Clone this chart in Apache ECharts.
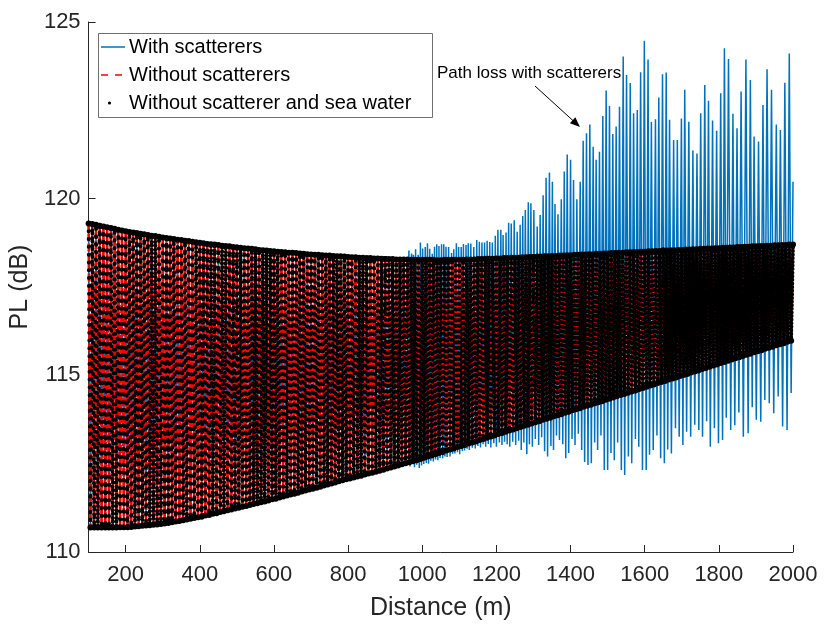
<!DOCTYPE html>
<html>
<head>
<meta charset="utf-8">
<script src="https://cdn.jsdelivr.net/npm/echarts@6/dist/echarts.min.js"></script>
<style>html,body{margin:0;padding:0;background:#fff}#c{width:831px;height:628px}</style>
</head>
<body>
<div id="c"></div>
<script>
// ---- data ----
const xTicks = [200,400,600,800,1000,1200,1400,1600,1800,2000];
const bandStart = 100, bandStep = 10; // upper values at 100,110,...,2000 ; lower values at 105,115,...,1995
const plUpper = [
119.30,119.28,119.26,119.23,119.21,119.19,119.17,119.15,119.12,119.10,
119.08,119.06,119.04,119.03,119.01,118.99,118.97,118.95,118.94,118.92,
118.90,118.89,118.87,118.86,118.84,118.83,118.81,118.80,118.78,118.77,
118.75,118.74,118.72,118.71,118.70,118.69,118.67,118.66,118.65,118.63,
118.62,118.61,118.60,118.59,118.58,118.57,118.55,118.54,118.53,118.52,
118.51,118.50,118.49,118.48,118.47,118.47,118.46,118.45,118.44,118.43,
118.42,118.41,118.41,118.40,118.39,118.39,118.38,118.37,118.37,118.36,
118.35,118.34,118.34,118.33,118.33,118.32,118.32,118.31,118.31,118.30,
118.29,118.29,118.29,118.28,118.28,118.28,118.28,118.27,118.27,118.27,
118.27,118.27,118.27,118.27,118.26,118.26,118.27,118.27,118.27,118.27,
118.27,118.27,118.28,118.28,118.28,118.29,118.29,118.30,118.30,118.30,
118.31,118.31,118.32,118.32,118.33,118.33,118.33,118.34,118.34,118.35,
118.35,118.36,118.36,118.37,118.37,118.38,118.38,118.39,118.39,118.40,
118.40,118.41,118.41,118.42,118.42,118.43,118.43,118.44,118.44,118.45,
118.45,118.46,118.46,118.47,118.47,118.48,118.48,118.49,118.49,118.50,
118.50,118.51,118.51,118.52,118.52,118.53,118.53,118.54,118.54,118.55,
118.55,118.56,118.56,118.57,118.57,118.58,118.58,118.59,118.59,118.60,
118.60,118.61,118.61,118.62,118.62,118.63,118.63,118.64,118.64,118.65,
118.65,118.66,118.66,118.67,118.67,118.68,118.68,118.69,118.69,118.70,
118.70];
const plLower = [
110.69,110.69,110.69,110.69,110.69,110.69,110.69,110.69,110.70,110.70,
110.70,110.71,110.72,110.73,110.74,110.75,110.76,110.77,110.78,110.79,
110.81,110.82,110.84,110.86,110.88,110.90,110.92,110.94,110.96,110.98,
111.00,111.03,111.05,111.08,111.10,111.13,111.15,111.18,111.20,111.23,
111.25,111.28,111.30,111.33,111.36,111.38,111.41,111.43,111.46,111.49,
111.51,111.54,111.57,111.60,111.63,111.65,111.68,111.71,111.74,111.77,
111.79,111.82,111.85,111.88,111.91,111.94,111.97,112.00,112.03,112.06,
112.08,112.11,112.14,112.16,112.19,112.22,112.24,112.27,112.30,112.33,
112.36,112.39,112.42,112.45,112.48,112.51,112.54,112.57,112.60,112.63,
112.67,112.70,112.73,112.77,112.80,112.83,112.87,112.90,112.93,112.97,
113.00,113.03,113.07,113.10,113.13,113.17,113.20,113.23,113.27,113.30,
113.34,113.37,113.40,113.44,113.47,113.50,113.54,113.57,113.60,113.64,
113.67,113.70,113.74,113.77,113.80,113.84,113.87,113.90,113.94,113.97,
114.01,114.04,114.07,114.11,114.14,114.17,114.21,114.24,114.27,114.31,
114.34,114.37,114.41,114.44,114.47,114.51,114.54,114.57,114.61,114.64,
114.68,114.71,114.74,114.78,114.81,114.84,114.88,114.91,114.94,114.98,
115.01,115.04,115.08,115.11,115.14,115.18,115.21,115.24,115.28,115.31,
115.35,115.38,115.41,115.45,115.48,115.51,115.55,115.58,115.61,115.65,
115.68,115.71,115.75,115.78,115.81,115.85,115.88,115.91,115.95,115.98];

// With scatterers: individual peaks (above the band) and troughs (below the band), 960 m to 2000 m
const peakDist = [964,971,976,982,989,995,1001,1008,1014,1020,1027,1033,1039,1045,1052,1058,1064,1071,1079,1085,
1092,1098,1105,1111,1118,1124,1131,1139,1147,1154,1161,1168,1175,1182,1189,1197,1204,1212,1218,1226,
1233,1240,1248,1256,1264,1271,1278,1286,1293,1301,1310,1318,1326,1334,1343,1351,1358,1366,1375,1383,
1391,1400,1408,1417,1426,1434,1443,1452,1461,1469,1478,1487,1496,1505,1514,1523,1532,1542,1551,1561,
1570,1580,1589,1599,1609,1618,1629,1638,1648,1658,1667,1678,1688,1699,1708,1719,1730,1741,1751,1762,
1772,1783,1794,1805,1815,1826,1838,1849,1860,1873,1885,1895,1907,1919,1930,1942,1955,1966,1978,1990,2000];
const peakPL = [118.53,118.45,118.41,118.57,118.41,118.76,118.59,118.63,118.74,118.58,118.44,118.64,118.71,118.66,118.71,118.71,118.64,118.63,118.46,118.57,
118.74,118.63,118.63,118.72,118.69,118.74,118.73,118.63,118.83,118.78,118.76,118.76,118.81,118.77,118.76,118.95,119.12,119.12,118.97,119.04,
119.32,119.30,119.39,119.06,119.26,119.51,119.68,119.90,119.87,119.68,119.21,119.54,120.10,120.59,120.74,120.48,119.85,119.56,119.98,120.77,
121.25,121.10,120.53,119.98,120.48,121.64,121.85,122.10,121.47,121.10,121.33,122.34,123.06,122.62,121.83,122.04,122.60,124.02,123.50,123.27,
122.42,122.51,123.58,124.47,123.94,122.17,122.25,122.86,123.52,123.57,122.23,121.66,121.66,122.27,123.08,122.18,121.36,121.28,122.42,123.22,
122.77,122.21,121.92,122.98,124.26,123.95,122.40,121.99,123.03,123.94,123.36,121.76,121.62,122.65,123.66,123.08,122.10,121.94,123.28,124.11,120.48];
const troughDist = [967,973,979,985,992,998,1004,1011,1017,1023,1030,1036,1042,1048,1055,1061,1067,1075,1082,1088,
1095,1101,1108,1114,1121,1127,1135,1143,1150,1157,1164,1171,1178,1185,1193,1200,1208,1215,1222,1229,
1236,1244,1252,1260,1267,1274,1282,1289,1297,1305,1314,1322,1330,1338,1347,1354,1362,1370,1379,1387,
1395,1404,1412,1421,1430,1438,1447,1456,1465,1473,1482,1491,1500,1509,1518,1527,1537,1546,1556,1565,
1575,1584,1594,1604,1613,1623,1633,1643,1653,1662,1672,1683,1693,1703,1713,1724,1735,1746,1756,1767,
1777,1788,1799,1810,1820,1832,1843,1854,1866,1879,1890,1901,1913,1924,1936,1948,1960,1972,1984,1995];
const troughPL = [112.42,112.50,112.40,112.47,112.38,112.45,112.49,112.52,112.50,112.58,112.56,112.62,112.60,112.66,112.65,112.70,112.69,112.70,112.78,112.79,
112.82,112.77,112.86,112.87,112.92,112.89,112.95,112.93,113.00,112.96,113.05,112.98,113.06,112.96,113.08,112.98,113.10,113.03,113.12,113.05,
112.98,113.12,113.03,113.15,112.89,113.10,112.77,113.05,112.98,113.20,113.03,113.25,112.85,112.70,113.00,112.89,113.30,113.17,113.05,112.65,
112.80,113.20,113.03,113.35,112.89,112.55,112.46,112.51,113.10,112.89,113.30,112.32,112.32,112.80,112.60,113.10,112.32,112.18,112.70,112.51,
113.20,112.98,112.32,112.32,112.75,112.89,113.30,112.65,112.51,112.90,112.79,113.50,113.26,113.03,113.40,113.26,113.60,113.45,113.26,113.70,
112.98,113.50,113.08,113.17,113.80,113.45,113.59,113.95,113.26,113.36,114.10,113.74,113.69,114.30,114.21,113.93,114.40,113.55,113.45,114.50];

// ---- build the vertex tables ----
const bandData = [];
for (let i = 0; i < plUpper.length; i++) {
  bandData.push([bandStart + bandStep * i, plUpper[i]]);
  if (i < plLower.length) bandData.push([bandStart + bandStep * i + bandStep / 2, plLower[i]]);
}
const blueData = bandData.filter(p => p[0] < 960);
for (let i = 0; i < peakDist.length; i++) {
  blueData.push([peakDist[i], peakPL[i]]);
  if (i < troughDist.length) blueData.push([troughDist[i], troughPL[i]]);
}

const FONT = 'Liberation Sans';
const TXT = '#262626';
const BLACK_NAME = 'Without scatterer and sea water';
// the dotted black trace is drawn in pieces so the dot density can follow the picture
const blackPieces = [[100, 500, 7.8], [500, 900, 6.6], [900, 1300, 5.5], [1300, 1650, 4.6], [1650, 2000, 3.6]];
const blackSeries = blackPieces.map(([a, b, gap]) => ({
  name: BLACK_NAME, type: 'line', data: bandData.filter(p => p[0] >= a && p[0] <= b), z: 3,
  symbol: 'circle', symbolSize: 6, showSymbol: true, showAllSymbol: true,
  itemStyle: {color: '#000'},
  lineStyle: {color: '#000', width: 4, type: [0.01, gap], cap: 'round'}
}));

const chart = echarts.init(document.getElementById('c'), null, {renderer: 'canvas'});
chart.setOption({
  animation: false,
  backgroundColor: '#fff',
  grid: {left: 88, right: 38, top: 22, bottom: 76, containLabel: false},
  xAxis: {
    type: 'value', min: 100, max: 2000,
    name: 'Distance (m)', nameLocation: 'middle', nameGap: 44,
    nameTextStyle: {fontFamily: FONT, fontSize: 25, color: TXT},
    axisLine: {show: true, lineStyle: {color: TXT, width: 1}},
    axisTick: {show: true, inside: true, length: 7, customValues: xTicks, lineStyle: {color: TXT}},
    axisLabel: {customValues: xTicks, fontFamily: FONT, fontSize: 22, color: TXT, margin: 12,
                formatter: v => String(v)},
    splitLine: {show: false}
  },
  yAxis: {
    type: 'value', min: 110, max: 125, interval: 5,
    name: 'PL (dB)', nameLocation: 'middle', nameGap: 50,
    nameTextStyle: {fontFamily: FONT, fontSize: 25, color: TXT},
    axisLine: {show: true, lineStyle: {color: TXT, width: 1}},
    axisTick: {show: true, inside: true, length: 7, lineStyle: {color: TXT}},
    axisLabel: {fontFamily: FONT, fontSize: 22, color: TXT, margin: 8},
    splitLine: {show: false}
  },
  series: [
    {name: 'With scatterers', type: 'line', data: blueData, symbol: 'none', z: 1,
     lineStyle: {color: '#0072BD', width: 1.5}, itemStyle: {color: '#0072BD'}},
    {name: 'Without scatterers', type: 'line', data: bandData, symbol: 'none', z: 2,
     lineStyle: {color: '#FF0000', width: 2.6, type: [8, 2]}, itemStyle: {color: '#FF0000'}}
  ].concat(blackSeries),
  graphic: [
    {type: 'rect', z: 100, shape: {x: 98.5, y: 33.5, width: 334, height: 84},
     style: {fill: '#fff', stroke: '#707070', lineWidth: 1}},
    {type: 'line', z: 101, shape: {x1: 101, y1: 47, x2: 125, y2: 47}, style: {stroke: '#0072BD', lineWidth: 1.5}},
    {type: 'line', z: 101, shape: {x1: 101, y1: 75, x2: 125, y2: 75}, style: {stroke: '#FF0000', lineWidth: 1.5, lineDash: [7, 7]}},
    {type: 'circle', z: 101, shape: {cx: 109.5, cy: 103, r: 1.6}, style: {fill: '#000'}},
    {type: 'text', z: 101, x: 129, y: 47, style: {text: 'With scatterers', font: '20px "Liberation Sans"', fill: '#000', verticalAlign: 'middle'}},
    {type: 'text', z: 101, x: 129, y: 75, style: {text: 'Without scatterers', font: '20px "Liberation Sans"', fill: '#000', verticalAlign: 'middle'}},
    {type: 'text', z: 101, x: 129, y: 103, style: {text: 'Without scatterer and sea water', font: '20px "Liberation Sans"', fill: '#000', verticalAlign: 'middle'}},
    {type: 'text', z: 101, x: 437, y: 73, style: {text: 'Path loss with scatterers', font: '17px "Liberation Sans"', fill: '#000', verticalAlign: 'middle'}},
    {type: 'line', z: 101, shape: {x1: 535, y1: 86, x2: 574, y2: 121.5}, style: {stroke: '#000', lineWidth: 1}},
    {type: 'polygon', z: 101, shape: {points: [[580, 127], [569.9, 123.3], [575.3, 117.3]]}, style: {fill: '#000'}}
  ]
});
</script>
</body>
</html>
